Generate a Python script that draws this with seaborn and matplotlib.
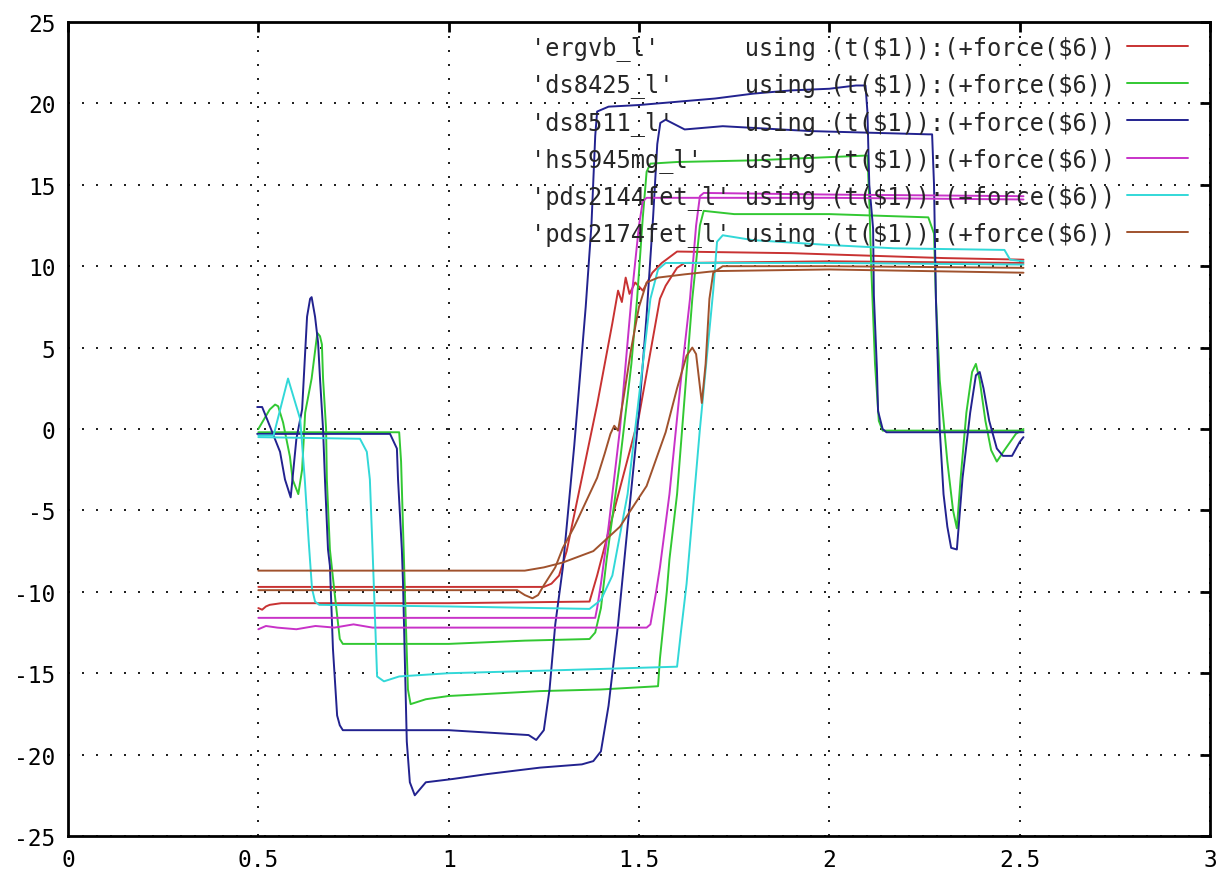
import matplotlib
matplotlib.use("Agg")
import matplotlib.pyplot as plt
from matplotlib.lines import Line2D
import seaborn as sns
import pandas as pd

# ---------------- data ----------------
series_names = ["ergvb_l", "ds8425_l", "ds8511_l", "hs5945mg_l", "pds2144fet_l", "pds2174fet_l"]
series_colors = ["#c83232", "#32c832", "#22228f", "#c832c8", "#32d8d8", "#a0522d"]
x_ticks = [0, 0.5, 1, 1.5, 2, 2.5, 3]
x_tick_labels = ["0", "0.5", "1", "1.5", "2", "2.5", "3"]
y_ticks = [-25, -20, -15, -10, -5, 0, 5, 10, 15, 20, 25]
y_tick_labels = ["-25", "-20", "-15", "-10", "-5", "0", "5", "10", "15", "20", "25"]

# ergvb_l (red)
ergvb_a_x = [0.50, 1.25, 1.27, 1.29, 1.31, 1.35, 1.39, 1.43, 1.445, 1.455, 1.465, 1.475, 1.49, 1.51, 1.535, 1.56, 1.60, 1.90, 2.30, 2.51]
ergvb_a_y = [-9.7, -9.7, -9.5, -9.0, -7.5, -3.0, 1.5, 6.5, 8.5, 7.8, 9.3, 8.3, 9.0, 8.5, 9.6, 10.2, 10.9, 10.8, 10.5, 10.4]
ergvb_b_x = [0.50, 0.51, 0.52, 0.53, 0.56, 1.00, 1.37, 1.39, 1.42, 1.50, 1.555, 1.57, 1.60, 1.62, 2.00, 2.51]
ergvb_b_y = [-11.0, -11.1, -10.9, -10.8, -10.7, -10.7, -10.6, -9.0, -6.3, 0.8, 8.0, 8.8, 9.9, 10.2, 10.3, 10.2]

# ds8425_l (green)
ds8425_a_x = [0.50, 0.53, 0.544, 0.552, 0.565, 0.583, 0.59, 0.605, 0.615, 0.623, 0.64, 0.655, 0.662, 0.667, 0.67, 0.678, 0.68,
              0.688, 0.70, 0.714, 0.722, 1.00, 1.20, 1.37, 1.385, 1.40, 1.415, 1.45, 1.48, 1.495, 1.51, 1.52, 1.53, 1.60,
              1.80, 2.00, 2.10, 2.105, 2.11, 2.12, 2.13, 2.14, 2.51]
ds8425_a_y = [0.0, 1.2, 1.5, 1.4, 0.4, -1.7, -3.1, -4.0, -2.5, 1.0, 3.1, 5.9, 5.7, 5.2, 3.1, 0.0, -3.1,
              -7.4, -10.0, -12.9, -13.2, -13.2, -13.0, -12.9, -12.5, -11.0, -8.0, -2.0, 4.0, 8.0, 13.0, 15.8, 16.3, 16.4,
              16.5, 16.7, 16.8, 14.0, 10.0, 4.0, 0.5, -0.1, -0.1]
ds8425_b_x = [0.50, 0.87, 0.875, 0.885, 0.893, 0.90, 0.94, 1.00, 1.24, 1.40, 1.55, 1.555, 1.573, 1.58, 1.60, 1.64, 1.66, 1.67,
              1.75, 2.00, 2.26, 2.275, 2.28, 2.29, 2.31, 2.325, 2.335, 2.345, 2.36, 2.375, 2.385, 2.395, 2.41, 2.425, 2.44,
              2.46, 2.49, 2.51]
ds8425_b_y = [-0.2, -0.2, -2.0, -10.0, -16.0, -16.9, -16.6, -16.4, -16.1, -16.0, -15.8, -14.1, -10.0, -8.0, -4.0, 8.0, 12.5, 13.4,
              13.2, 13.2, 13.0, 12.0, 8.0, 3.0, -2.0, -5.0, -6.1, -3.0, 1.0, 3.5, 4.0, 3.0, 0.5, -1.3, -2.0,
              -1.3, -0.3, 0.0]

# ds8511_l (blue)
ds8511_a_x = [0.497, 0.51, 0.523, 0.54, 0.557, 0.57, 0.585, 0.60, 0.615, 0.628, 0.636, 0.64, 0.649, 0.657, 0.662, 0.67, 0.675,
              0.683, 0.688, 0.696, 0.707, 0.714, 0.722, 1.00, 1.21, 1.23, 1.25, 1.265, 1.28, 1.30, 1.33, 1.36, 1.375, 1.385,
              1.39, 1.42, 1.50, 1.60, 1.70, 1.80, 1.90, 2.00, 2.07, 2.095, 2.10, 2.105, 2.115, 2.117, 2.125, 2.128, 2.14,
              2.15, 2.51]
ds8511_a_y = [1.35, 1.35, 0.6, -0.4, -1.4, -3.1, -4.2, -0.6, 1.2, 6.9, 8.0, 8.1, 6.9, 5.3, 3.1, 0.0, -3.1,
              -7.4, -8.4, -13.5, -17.6, -18.2, -18.5, -18.5, -18.8, -19.1, -18.5, -16.0, -12.0, -8.5, -1.0, 7.5, 12.5, 18.0,
              19.5, 19.8, 19.9, 20.1, 20.3, 20.6, 20.8, 20.9, 21.1, 21.1, 19.5, 15.0, 12.3, 8.2, 3.7, 1.1, 0.0,
              -0.2, -0.2]
ds8511_b_x = [0.497, 0.846, 0.864, 0.867, 0.877, 0.88, 0.89, 0.898, 0.911, 0.94, 1.01, 1.10, 1.24, 1.35, 1.38, 1.40, 1.42,
              1.445, 1.47, 1.50, 1.52, 1.537, 1.548, 1.556, 1.57, 1.62, 1.72, 1.95, 2.26, 2.27, 2.275, 2.28, 2.29, 2.30,
              2.31, 2.32, 2.335, 2.35, 2.37, 2.385, 2.395, 2.405, 2.42, 2.44, 2.456, 2.48, 2.50, 2.51]
ds8511_b_y = [-0.3, -0.3, -1.2, -3.1, -7.4, -9.4, -19.2, -21.7, -22.5, -21.7, -21.5, -21.2, -20.8, -20.6, -20.4, -19.8, -17.0,
              -12.0, -6.0, 1.0, 7.0, 13.0, 17.5, 18.8, 19.0, 18.4, 18.6, 18.3, 18.1, 18.1, 15.0, 8.0, 0.0, -4.0,
              -6.0, -7.3, -7.4, -3.0, 1.0, 3.3, 3.5, 2.5, 0.5, -1.2, -1.65, -1.65, -0.8, -0.5]

# hs5945mg_l (magenta)
hs5945mg_a_x = [0.50, 1.385, 1.39, 1.40, 1.42, 1.45, 1.48, 1.50, 1.51, 1.52, 1.70, 2.00, 2.51]
hs5945mg_a_y = [-11.6, -11.6, -11.0, -9.5, -6.0, 0.0, 8.0, 12.5, 14.0, 14.2, 14.2, 14.2, 14.1]
hs5945mg_b_x = [0.50, 0.52, 0.55, 0.60, 0.65, 0.70, 0.75, 0.80, 1.00, 1.25, 1.52, 1.53, 1.545, 1.555, 1.58, 1.61, 1.634,
                1.65, 1.66, 1.67, 2.00, 2.51]
hs5945mg_b_y = [-12.3, -12.1, -12.2, -12.3, -12.1, -12.2, -12.0, -12.2, -12.2, -12.2, -12.2, -12.0, -10.0, -8.5, -4.0, 3.0, 8.0,
                12.5, 14.3, 14.5, 14.4, 14.3]

# pds2144fet_l (cyan)
pds2144_a_x = [0.50, 0.54, 0.578, 0.61, 0.622, 0.632, 0.641, 0.649, 0.66, 1.00, 1.37, 1.40, 1.43, 1.47, 1.50, 1.53, 1.55,
               1.57, 2.00, 2.51]
pds2144_a_y = [-0.4, -0.4, 3.1, 0.6, -3.1, -6.8, -9.8, -10.6, -10.8, -10.9, -11.05, -10.5, -9.0, -4.0, 2.0, 8.0, 9.8,
               10.2, 10.2, 10.1]
pds2144_b_x = [0.50, 0.767, 0.785, 0.793, 0.80, 0.812, 0.83, 0.87, 1.00, 1.24, 1.60, 1.61, 1.625, 1.66, 1.695, 1.705, 1.72,
               1.80, 2.00, 2.17, 2.46, 2.475, 2.51]
pds2144_b_y = [-0.5, -0.6, -1.4, -3.1, -7.4, -15.2, -15.5, -15.2, -15.0, -14.85, -14.6, -12.5, -9.5, 0.0, 8.5, 11.5, 11.9,
               11.6, 11.3, 11.1, 11.0, 10.4, 10.3]

# pds2174fet_l (brown)
pds2174_a_x = [0.50, 1.20, 1.25, 1.30, 1.38, 1.45, 1.52, 1.57, 1.60, 1.625, 1.64, 1.65, 1.665, 1.675, 1.685, 1.695, 1.72,
               2.00, 2.51]
pds2174_a_y = [-8.7, -8.7, -8.5, -8.2, -7.5, -6.0, -3.5, -0.2, 2.5, 4.5, 5.0, 4.6, 1.6, 4.0, 8.0, 9.6, 10.0,
               10.0, 9.9]
pds2174_b_x = [0.50, 1.18, 1.20, 1.22, 1.235, 1.25, 1.28, 1.30, 1.33, 1.36, 1.39, 1.41, 1.425, 1.435, 1.445, 1.46, 1.48,
               1.50, 1.52, 1.55, 1.62, 1.70, 2.00, 2.51]
pds2174_b_y = [-9.9, -9.9, -10.2, -10.4, -10.2, -9.6, -8.5, -7.3, -6.0, -4.5, -3.0, -1.5, -0.3, 0.2, -0.1, 2.0, 5.0,
               7.5, 9.0, 9.3, 9.5, 9.7, 9.8, 9.6]

traces = [
    ("ergvb_l", "a", ergvb_a_x, ergvb_a_y), ("ergvb_l", "b", ergvb_b_x, ergvb_b_y),
    ("ds8425_l", "a", ds8425_a_x, ds8425_a_y), ("ds8425_l", "b", ds8425_b_x, ds8425_b_y),
    ("ds8511_l", "a", ds8511_a_x, ds8511_a_y), ("ds8511_l", "b", ds8511_b_x, ds8511_b_y),
    ("hs5945mg_l", "a", hs5945mg_a_x, hs5945mg_a_y), ("hs5945mg_l", "b", hs5945mg_b_x, hs5945mg_b_y),
    ("pds2144fet_l", "a", pds2144_a_x, pds2144_a_y), ("pds2144fet_l", "b", pds2144_b_x, pds2144_b_y),
    ("pds2174fet_l", "a", pds2174_a_x, pds2174_a_y), ("pds2174fet_l", "b", pds2174_b_x, pds2174_b_y),
]

rows = []
for name, part, xs, ys in traces:
    for i, (xv, yv) in enumerate(zip(xs, ys)):
        rows.append({"series": name, "trace": name + part, "order": i, "x": xv, "y": yv})
df = pd.DataFrame(rows)

# ---------------- plotting ----------------
sns.set_theme(style="white")
mono = "DejaVu Sans Mono"
plt.rcParams["font.family"] = [mono, "DejaVu Sans"]
plt.rcParams["axes.unicode_minus"] = False

fig = plt.figure(figsize=(12.19, 8.79), dpi=100)
fig.patch.set_facecolor("white")
ax = fig.add_axes([68 / 1219, 1 - 837 / 879, (1210 - 68) / 1219, (837 - 23) / 879])
ax.set_facecolor("white")

palette = dict(zip(series_names, series_colors))
sns.lineplot(data=df, x="x", y="y", hue="series", units="trace", estimator=None, sort=False,
             palette=palette, hue_order=series_names, linewidth=1.4, legend=False, ax=ax)

ax.set_xlim(0, 3)
ax.set_ylim(-25, 25)
ax.set_xticks(x_ticks)
ax.set_xticklabels(x_tick_labels)
ax.set_yticks(y_ticks)
ax.set_yticklabels(y_tick_labels)
ax.set_xlabel("")
ax.set_ylabel("")

ax.grid(True, color="#222222", linestyle=(0, (1, 6)), linewidth=1.44)
ax.tick_params(axis="both", which="major", direction="in", length=7, width=2,
               top=True, right=True, labelsize=16.5, colors="black", pad=9)
for lbl in ax.get_xticklabels() + ax.get_yticklabels():
    lbl.set_fontfamily(mono)
for sp in ax.spines.values():
    sp.set_visible(True)
    sp.set_color("black")
    sp.set_linewidth(2)

handles = [Line2D([0], [0], color=c, lw=1.4) for c in series_colors]
labels = []
for n in series_names:
    q = "'" + n + "'"
    labels.append(q.ljust(15) + r"using (t(\$1)):(+force(\$6))")
leg = ax.legend(handles, labels, loc="upper right", bbox_to_anchor=(0.981, 0.984),
                markerfirst=False, frameon=False,
                prop={"family": mono, "size": 17}, handlelength=2.6, handletextpad=0.5,
                labelspacing=0.52, borderpad=0.0, borderaxespad=0.0)

fig.savefig("out.png", dpi=100)
